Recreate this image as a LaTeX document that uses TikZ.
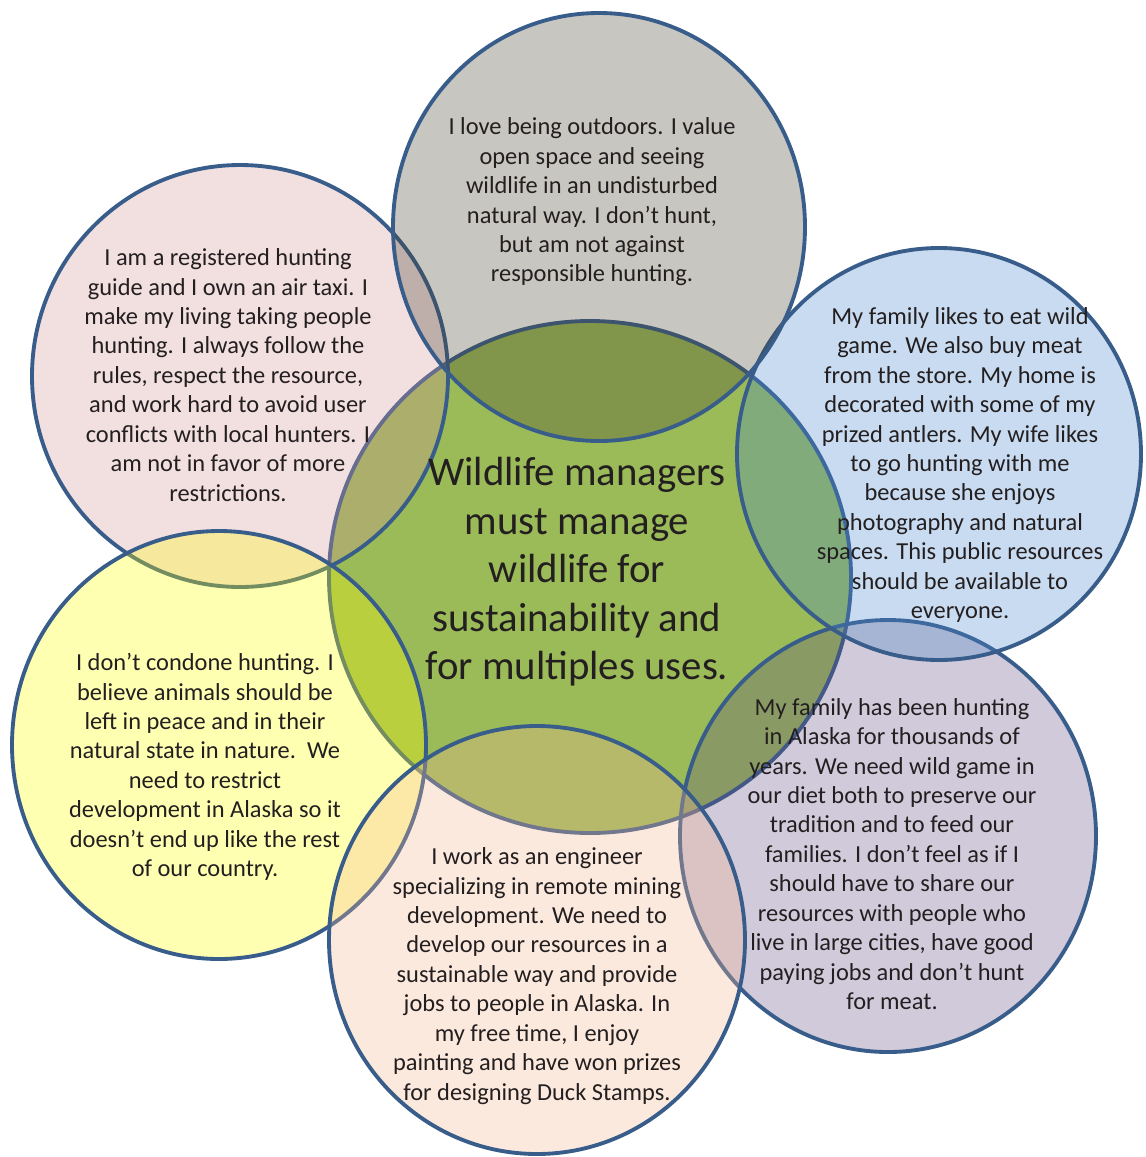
\documentclass[tikz,border=0pt]{standalone}
\usepackage{fontspec}
\setmainfont{Carlito}
\definecolor{ring}{RGB}{56,93,138}
\definecolor{ink}{RGB}{35,31,32}
\definecolor{leaf}{RGB}{155,187,89}
\definecolor{stone}{RGB}{72,65,45}
\definecolor{rose}{RGB}{212,148,152}
\definecolor{sky}{RGB}{75,135,205}
\definecolor{lemon}{RGB}{255,255,0}
\definecolor{apricot}{RGB}{245,182,145}
\definecolor{plum}{RGB}{98,78,132}
\begin{document}
\begin{tikzpicture}[x=0.02cm,y=-0.02cm,
  petal/.style={draw=ring,line width=2.2pt,fill opacity=0.3},
  say/.style={align=center,text=ink,inner sep=0pt,font=\fontsize{13.9}{16.75}\selectfont},
  motto/.style={align=center,text=ink,inner sep=0pt,font=\fontsize{23.2}{27.6}\selectfont}]
\useasboundingbox (0,0) rectangle (1146,1157);

\coordinate (m) at (590,577);
\coordinate (g) at (599,227);
\coordinate (p) at (240,376);
\coordinate (b) at (939,454);
\coordinate (y) at (219,745);
\coordinate (e) at (537,940);
\coordinate (u) at (888,836);

\draw[draw=ring,line width=2.2pt,fill=leaf] (m) ellipse [x radius=261,y radius=256];
\draw[petal,fill=plum] (u) ellipse [x radius=208,y radius=216];
\draw[petal,fill=sky] (b) ellipse [x radius=202,y radius=206];
\draw[petal,fill=rose] (p) ellipse [x radius=208,y radius=211];
\draw[petal,fill=stone] (g) ellipse [x radius=206,y radius=214];
\draw[petal,fill=lemon] (y) ellipse [x radius=207,y radius=214];
\draw[petal,fill=apricot] (e) ellipse [x radius=208,y radius=214];

\node[motto] (mt) at (577,572) {Wildlife managers\\must manage\\wildlife for\\sustainability and\\for multiples uses.};

\node[say] (gt) at (592,202) {I love being outdoors. I value\\open space and seeing\\wildlife in an undisturbed\\natural way. I don’t hunt,\\but am not against\\responsible hunting.};
\node[say] (pt) at (228,375) {I am a registered hunting\\guide and I own an air taxi. I\\make my living taking people\\hunting. I always follow the\\rules, respect the resource,\\and work hard to avoid user\\conflicts with local hunters. I\\am not in favor of more\\restrictions.};
\node[say] (bt) at (960,465) {My family likes to eat wild\\game. We also buy meat\\from the store. My home is\\decorated with some of my\\prized antlers. My wife likes\\to go hunting with me\\because she enjoys\\photography and natural\\spaces. This public resources\\should be available to\\everyone.};
\node[say] (yt) at (205,767) {I don’t condone hunting. I\\believe animals should be\\left in peace and in their\\natural state in nature.\ \ We\\need to restrict\\development in Alaska so it\\doesn’t end up like the rest\\of our country.};
\node[say] (et) at (537,976) {I work as an engineer\\specializing in remote mining\\development. We need to\\develop our resources in a\\sustainable way and provide\\jobs to people in Alaska. In\\my free time, I enjoy\\painting and have won prizes\\for designing Duck Stamps.};
\node[say] (ut) at (892,854) {My family has been hunting\\in Alaska for thousands of\\years. We need wild game in\\our diet both to preserve our\\tradition and to feed our\\families. I don’t feel as if I\\should have to share our\\resources with people who\\live in large cities, have good\\paying jobs and don’t hunt\\for meat.};
\end{tikzpicture}
\end{document}
